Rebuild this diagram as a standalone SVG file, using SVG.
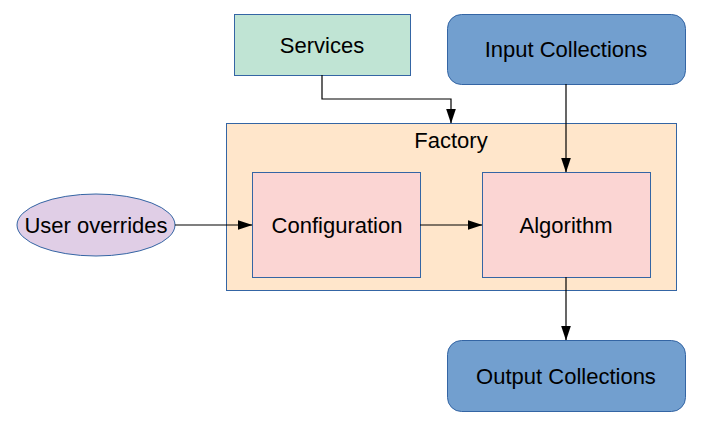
<svg xmlns="http://www.w3.org/2000/svg" width="706" height="425" viewBox="0 0 706 425">
<style>
text{font-family:"Liberation Sans",Arial,sans-serif;font-size:22px;fill:#000;text-anchor:middle;dominant-baseline:central}
.n{stroke:#3465a4;stroke-width:1}
.c{fill:none;stroke:#000;stroke-width:1.2}
</style>
<defs>
<marker id="a" markerWidth="15" markerHeight="10" refX="14.5" refY="5" orient="auto" markerUnits="userSpaceOnUse">
<path d="M0,0 L15,5 L0,10 Z" fill="#000"/>
</marker>
</defs>
<rect width="706" height="425" fill="#fff"/>
<g id="factory"><rect class="n" x="226.5" y="123.5" width="450" height="167" fill="#ffe6cb"/><text x="451" y="140">Factory</text></g>
<g id="services"><rect class="n" x="234.5" y="14.5" width="176" height="61" fill="#c0e4d4"/><text x="322" y="45">Services</text></g>
<g id="input"><rect class="n" x="447.5" y="14.5" width="238" height="70" rx="14" fill="#729fcf"/><text x="566" y="49">Input Collections</text></g>
<g id="user"><ellipse class="n" cx="96" cy="225" rx="79" ry="31" fill="#e0cee6"/><text x="96" y="225">User overrides</text></g>
<g id="config"><rect class="n" x="252.5" y="172.5" width="168" height="105" fill="#fbd5d3"/><text x="337" y="225">Configuration</text></g>
<g id="algo"><rect class="n" x="482.5" y="172.5" width="168" height="105" fill="#fbd5d3"/><text x="566" y="225">Algorithm</text></g>
<g id="output"><rect class="n" x="447.5" y="340.5" width="238" height="71" rx="14" fill="#729fcf"/><text x="566" y="376">Output Collections</text></g>
<g id="connectors">
<path class="c" d="M322,75 V99 H451 V123" marker-end="url(#a)"/>
<path class="c" d="M566,84 V172" marker-end="url(#a)"/>
<path class="c" d="M175,225 H252" marker-end="url(#a)"/>
<path class="c" d="M420,225 H482" marker-end="url(#a)"/>
<path class="c" d="M566,277 V340" marker-end="url(#a)"/>
</g>
</svg>
